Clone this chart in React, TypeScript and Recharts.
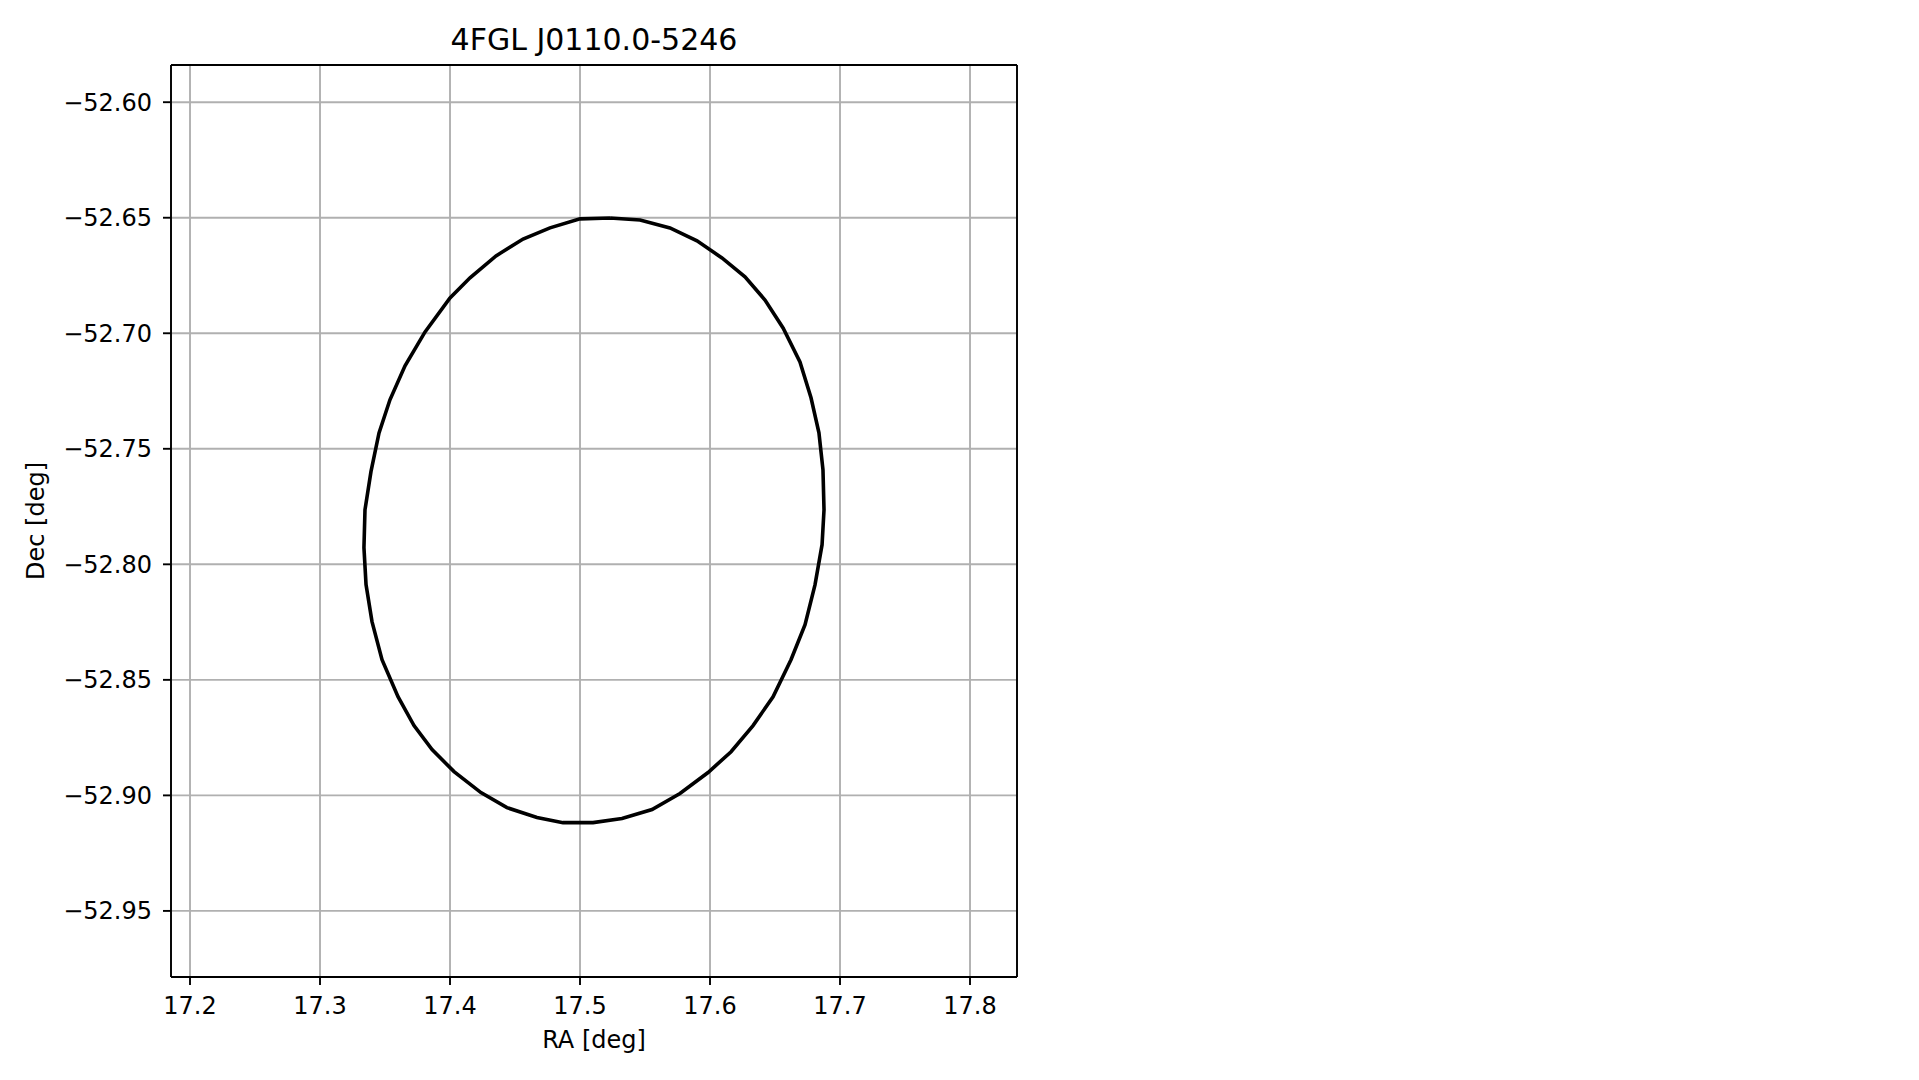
import {
  ScatterChart,
  Scatter,
  XAxis,
  YAxis,
  CartesianGrid,
  ReferenceLine,
} from 'recharts';

// 4FGL J0110.0-5246 localisation ellipse (deg)
const ellipseRa = [
  17.5231, 17.5462, 17.5692, 17.59, 17.6092, 17.6269, 17.6423, 17.6562, 17.6692, 17.6777,
  17.6838, 17.6869, 17.6877, 17.6862, 17.6808, 17.6731, 17.6623, 17.6485, 17.6331, 17.6162,
  17.5985, 17.5769, 17.5554, 17.5323, 17.51, 17.4869, 17.4669, 17.4438, 17.4238, 17.4031,
  17.3862, 17.3723, 17.36, 17.3477, 17.34, 17.3354, 17.3338, 17.3346, 17.3392, 17.3454,
  17.3538, 17.3654, 17.3808, 17.4, 17.4154, 17.4354, 17.4562, 17.4769, 17.5,
];
const ellipseDec = [
  -52.6501, -52.651, -52.6544, -52.66, -52.6674, -52.6756, -52.6856, -52.6977, -52.7124, -52.7279,
  -52.7431, -52.7591, -52.7764, -52.7915, -52.8088, -52.8261, -52.8413, -52.8573, -52.8698, -52.8811,
  -52.8901, -52.8992, -52.9061, -52.91, -52.9118, -52.9118, -52.9096, -52.9053, -52.8988, -52.8897,
  -52.8802, -52.8698, -52.8573, -52.8413, -52.8248, -52.8088, -52.7928, -52.7764, -52.7599, -52.7431,
  -52.7288, -52.7141, -52.6994, -52.6847, -52.676, -52.6665, -52.6592, -52.6544, -52.6505,
];

const raTicks = [17.2, 17.3, 17.4, 17.5, 17.6, 17.7, 17.8];
const decTicks = [-52.95, -52.9, -52.85, -52.8, -52.75, -52.7, -52.65, -52.6];

const raDomain: [number, number] = [17.18538, 17.83615];
const decDomain: [number, number] = [-52.9786, -52.5839];

const points = ellipseRa.map((ra, i) => ({ ra, dec: ellipseDec[i] }));
points.push(points[0]); // close the contour

const FONT = 'DejaVu Sans';

const fmtDec = (v: number) => (v < 0 ? '\u2212' + Math.abs(v).toFixed(2) : v.toFixed(2));

export default function App() {
  return (
    <div style={{ position: 'absolute', left: 0, top: 0, width: 1919, height: 1080, background: '#fff', fontFamily: FONT }}>
      <ScatterChart width={1919} height={1080} margin={{ top: 65, right: 902, bottom: 0, left: 0 }}>
        <CartesianGrid stroke="#b0b0b0" strokeWidth={1.9} />
        <XAxis
          type="number"
          dataKey="ra"
          domain={raDomain}
          ticks={raTicks}
          allowDataOverflow
          height={103}
          tickFormatter={(v: number) => v.toFixed(1)}
          tick={{ fill: '#000', fontSize: 24, fontFamily: FONT }}
          tickSize={8}
          tickMargin={12}
          tickLine={{ stroke: '#000', strokeWidth: 1.9 }}
          axisLine={{ stroke: '#000', strokeWidth: 1.9 }}
        />
        <YAxis
          type="number"
          dataKey="dec"
          domain={decDomain}
          ticks={decTicks}
          allowDataOverflow
          width={171}
          tickFormatter={fmtDec}
          tick={{ fill: '#000', fontSize: 24, fontFamily: FONT }}
          tickSize={8}
          tickMargin={11}
          tickLine={{ stroke: '#000', strokeWidth: 1.9 }}
          axisLine={{ stroke: '#000', strokeWidth: 1.9 }}
        />
        <Scatter
          data={points}
          line={{ stroke: '#000', strokeWidth: 3.6 }}
          lineJointType="linear"
          shape={() => <g />}
          isAnimationActive={false}
        />
        {/* top and right spines */}
        <ReferenceLine y={decDomain[1]} stroke="#000" strokeWidth={1.9} />
        <ReferenceLine x={raDomain[1]} stroke="#000" strokeWidth={1.9} />
      </ScatterChart>

      <svg width={1919} height={1080} style={{ position: 'absolute', left: 0, top: 0, pointerEvents: 'none' }}>
        <text x={594} y={50} textAnchor="middle" fontSize={30} fontFamily={FONT} fill="#000">
          4FGL J0110.0-5246
        </text>
        <text x={594} y={1048} textAnchor="middle" fontSize={24} fontFamily={FONT} fill="#000">
          RA [deg]
        </text>
        <text
          x={44}
          y={521}
          textAnchor="middle"
          fontSize={24}
          fontFamily={FONT}
          fill="#000"
          transform="rotate(-90 44 521)"
        >
          Dec [deg]
        </text>
      </svg>
    </div>
  );
}
